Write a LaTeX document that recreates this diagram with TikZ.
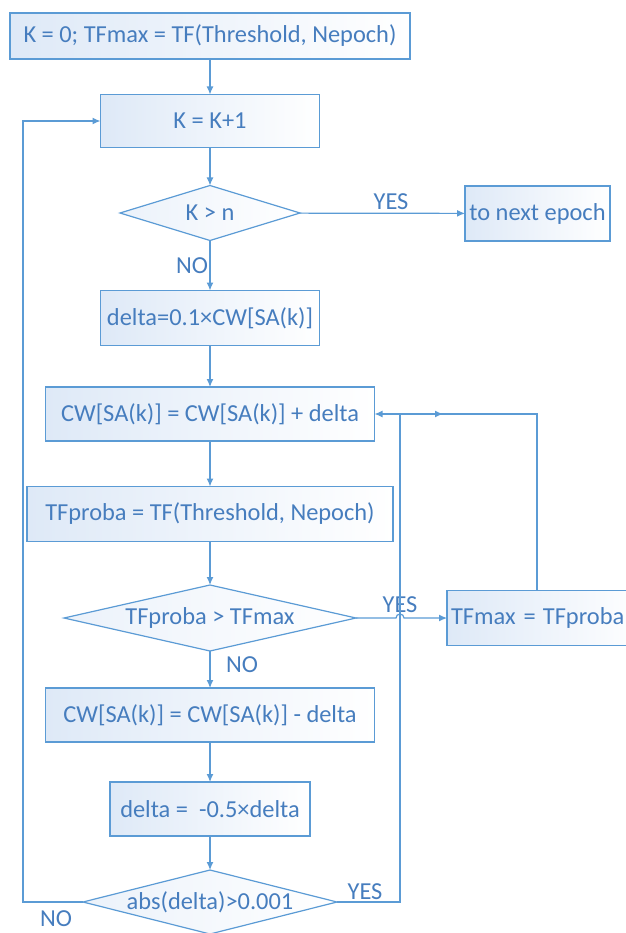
\documentclass[tikz,border=0pt]{standalone}
\usepackage{fontspec}
\setmainfont{Carlito}
\definecolor{ln}{RGB}{91, 155, 213}
\definecolor{tx}{RGB}{70, 125, 190}
\definecolor{cc}{RGB}{222, 233, 247}
\usetikzlibrary{shapes.geometric}
\usetikzlibrary{arrows.meta}

\begin{document}
\begin{tikzpicture}[x=1pt, y=-1pt, font=\fontsize{24.4}{29}\selectfont,
box/.style={rectangle, draw=ln, line width=1.2pt, left color=cc, right color=white, text=tx, inner sep=0pt, outer sep=0pt},
dia/.style={diamond, draw=ln, line width=1.2pt, left color=cc!60, right color=white, text=tx, inner sep=0pt, outer sep=0pt},
lbl/.style={text=tx, inner sep=0pt},
line/.style={draw=ln, line width=1.2pt},
arr/.style={line, -{Latex[length=8pt, width=7pt]}}]
\useasboundingbox (0,0) rectangle (625,933);
\node (1) [box, minimum width=400pt, minimum height=46pt] at (210, 36) {K = 0; TFmax = TF(Threshold, Nepoch)};
\node (2) [box, minimum width=219pt, minimum height=53pt] at (210, 121) {K = K+1};
\node (3) [dia, minimum width=180pt, minimum height=55pt] at (210, 213) {\makebox[0pt]{K > n}};
\node (4) [box, minimum width=145pt, minimum height=55pt] at (537.5, 213.5) {to next epoch};
\node (5) [box, minimum width=219pt, minimum height=55pt] at (210, 318) {delta=0.1×CW[SA(k)]};
\node (6) [box, minimum width=329pt, minimum height=54pt] at (210, 414) {CW[SA(k)] = CW[SA(k)] + delta};
\node (7) [box, minimum width=366pt, minimum height=55pt] at (210, 514) {TFproba = TF(Threshold, Nepoch)};
\node (8) [dia, minimum width=292pt, minimum height=66pt] at (210, 618) {\makebox[0pt]{TFproba > TFmax}};
\node (9) [box, anchor=west, text width=190pt, inner xsep=4pt, minimum height=55pt] at (447, 618) {TFmax =\hspace{7pt}TFproba};
\node (10) [box, minimum width=329pt, minimum height=54pt] at (210, 715) {CW[SA(k)] = CW[SA(k)] - delta};
\node (11) [box, minimum width=200pt, minimum height=54pt] at (210, 809) {delta = \ -0.5×delta};
\node (12) [dia, minimum width=254pt, minimum height=64pt] at (210, 902) {\makebox[0pt]{abs(delta)>0.001}};
\node (y1) [lbl] at (391, 202) {YES};
\node (n1) [lbl] at (192, 266) {NO};
\node (y2) [lbl] at (400, 605) {YES};
\node (n2) [lbl] at (242, 665) {NO};
\node (y3) [lbl] at (365, 892) {YES};
\node (n3) [lbl] at (56, 919) {NO};
\coordinate (j) at (400, 414);
\coordinate (m) at (443, 414);
\draw [arr] (1) to (2);
\draw [arr] (2) to (3);
\draw [arr] (3) to (4);
\draw [arr] (3) to (5);
\draw [arr] (5) to (6);
\draw [arr] (6) to (7);
\draw [arr] (7) to (8);
\draw [arr] (8.east) -- (396, 618) arc (180:360:4) -- (9.west);
\draw [arr] (8) to (10);
\draw [arr] (10) to (11);
\draw [arr] (11) to (12);
\draw [arr] (12.west) -- ++(-60, 0) |- (2.west);
\draw [arr] (12.east) -- ++(63, 0) |- (6.east);
\draw [line] ([xshift=-9pt]9.north) |- (j);
\draw [arr] (j) -- (m);
\end{tikzpicture}
\end{document}
